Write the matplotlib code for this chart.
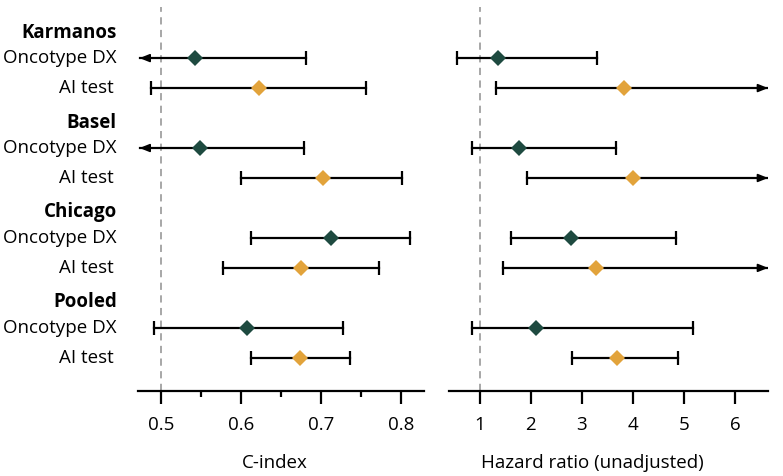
import numpy as np
import matplotlib.pyplot as plt
from matplotlib.transforms import blended_transform_factory

plt.rcParams['font.family'] = ['Open Sans', 'DejaVu Sans']

cohorts = ["Karmanos", "Basel", "Chicago", "Pooled"]
tests = ["Oncotype DX", "AI test"]
colors = {"Oncotype DX": "#1e4a40", "AI test": "#e2a33b"}

# C-index: point, lower, upper (None = beyond the axis, drawn as arrow)
cidx_onc = [0.543, 0.549, 0.712, 0.607]
cidx_onc_lo = [None, None, 0.612, 0.491]
cidx_onc_hi = [0.681, 0.678, 0.811, 0.727]
cidx_ai = [0.622, 0.702, 0.675, 0.674]
cidx_ai_lo = [0.488, 0.600, 0.578, 0.612]
cidx_ai_hi = [0.756, 0.801, 0.772, 0.736]

# Hazard ratio (unadjusted)
hr_onc = [1.36, 1.77, 2.79, 2.10]
hr_onc_lo = [0.56, 0.86, 1.61, 0.85]
hr_onc_hi = [3.29, 3.66, 4.83, 5.18]
hr_ai = [3.83, 3.99, 3.27, 3.69]
hr_ai_lo = [1.33, 1.93, 1.46, 2.81]
hr_ai_hi = [None, None, None, 4.87]

fig = plt.figure(figsize=(7.83, 4.76), dpi=100)
ax1 = fig.add_axes([0.176, 0.179, 0.366, 0.806])
ax2 = fig.add_axes([0.573, 0.179, 0.408, 0.806])


def draw(ax, pts, los, his, ypos, color, xlim):
    for p, lo, hi, y in zip(pts, los, his, ypos):
        left = lo if lo is not None else xlim[0] + 0.006 * (xlim[1] - xlim[0])
        right = hi if hi is not None else xlim[1]
        ax.plot([left, right], [y, y], color="black", lw=1.6, zorder=2)
        arrow = dict(arrowstyle="-|>,head_length=0.55,head_width=0.22", lw=1.2,
                     color="black", mutation_scale=11, shrinkA=0, shrinkB=0)
        if lo is not None:
            ax.plot([lo], [y], marker="|", ms=10, mew=1.6, color="black", zorder=2)
        else:
            ax.annotate("", xy=(left, y), xytext=(p, y), arrowprops=arrow)
        if hi is not None:
            ax.plot([hi], [y], marker="|", ms=10, mew=1.6, color="black", zorder=2)
        else:
            ax.annotate("", xy=(right, y), xytext=(p, y), arrowprops=arrow)
        ax.plot([p], [y], marker="D", ms=8.5, mew=0, color=color, zorder=3)


y_onc = [3 * g for g in range(len(cohorts))]
y_ai = [3 * g + 1 for g in range(len(cohorts))]
y_head = [3 * g - 0.85 for g in range(len(cohorts))]

xlim1 = (0.471, 0.829)
xlim2 = (0.395, 6.64)

draw(ax1, cidx_onc, cidx_onc_lo, cidx_onc_hi, y_onc, colors["Oncotype DX"], xlim1)
draw(ax1, cidx_ai, cidx_ai_lo, cidx_ai_hi, y_ai, colors["AI test"], xlim1)
draw(ax2, hr_onc, hr_onc_lo, hr_onc_hi, y_onc, colors["Oncotype DX"], xlim2)
draw(ax2, hr_ai, hr_ai_lo, hr_ai_hi, y_ai, colors["AI test"], xlim2)

ax1.axvline(0.5, color="#a0a0a0", ls=(0, (4, 3)), lw=1.3, zorder=1)
ax2.axvline(1, color="#a0a0a0", ls=(0, (4, 3)), lw=1.3, zorder=1)

for ax, xlim in [(ax1, xlim1), (ax2, xlim2)]:
    ax.set_xlim(*xlim)
    ax.set_ylim(11.1, -1.7)
    ax.set_yticks([])
    for s in ["top", "right", "left"]:
        ax.spines[s].set_visible(False)
    ax.spines["bottom"].set_linewidth(1.6)
    ax.tick_params(axis="x", which="major", length=9, width=1.6, labelsize=13.5, pad=9)
    ax.tick_params(axis="x", which="minor", length=4.5, width=1.6)

ax1.set_xticks([0.5, 0.6, 0.7, 0.8])
ax1.set_xticklabels(["0.5", "0.6", "0.7", "0.8"])
ax1.set_xticks([0.55, 0.65, 0.75], minor=True)
ax2.set_xticks([1, 2, 3, 4, 5, 6])

ax1.set_xlabel("C-index", fontsize=13.5)
ax1.xaxis.set_label_coords(0.479, -0.165)
ax2.set_xlabel("Hazard ratio (unadjusted)", fontsize=13.5)
ax2.xaxis.set_label_coords(0.451, -0.165)

trans = blended_transform_factory(ax1.transAxes, ax1.transData)
for g, name in enumerate(cohorts):
    ax1.text(-0.073, y_head[g], name, transform=trans, ha="right", va="center",
             fontsize=13.5, fontweight="bold")
    ax1.text(-0.073, y_onc[g], tests[0], transform=trans, ha="right", va="center",
             fontsize=13.5)
    ax1.text(-0.085, y_ai[g], tests[1], transform=trans, ha="right", va="center",
             fontsize=13.5)

fig.savefig("out.png", dpi=100)
